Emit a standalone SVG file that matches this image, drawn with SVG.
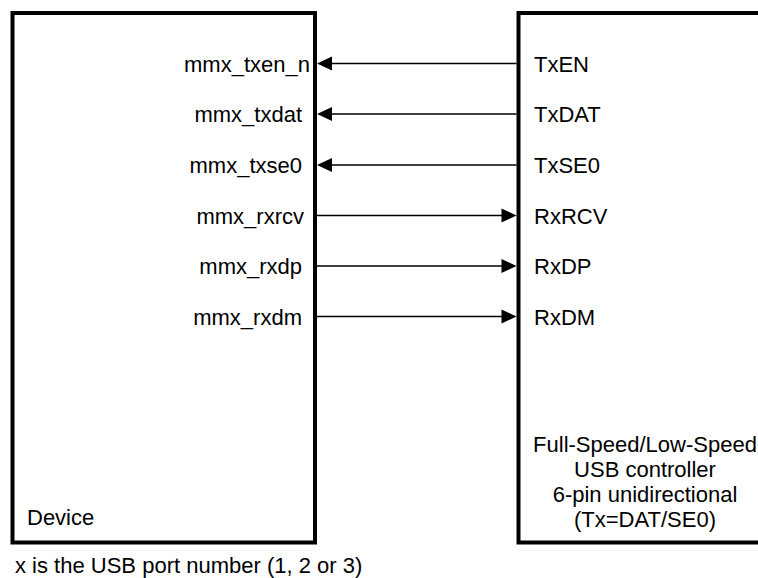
<svg xmlns="http://www.w3.org/2000/svg" width="758" height="578" viewBox="0 0 758 578">
<style>
.box{fill:#fff;stroke:#000;stroke-width:4}
.t{font-family:"Liberation Sans",Arial,sans-serif;font-size:22px;fill:#000}
.e{text-anchor:end}
.m{text-anchor:middle}
.ln{stroke:#000;stroke-width:1.5;fill:none}
.ah{fill:#000}
</style>
<rect width="758" height="578" fill="#fff"/>
<g id="device">
<rect class="box" x="12.5" y="13" width="302.5" height="529.5"/>
<text class="t" x="27" y="525">Device</text>
<text class="t e" x="310" y="71.5">mmx_txen_n</text>
<text class="t e" x="302" y="122">mmx_txdat</text>
<text class="t e" x="302" y="173">mmx_txse0</text>
<text class="t e" x="304" y="223.5">mmx_rxrcv</text>
<text class="t e" x="302" y="274">mmx_rxdp</text>
<text class="t e" x="302" y="324.5">mmx_rxdm</text>
</g>
<g id="usb-controller">
<rect class="box" x="518.5" y="13" width="260" height="529.5"/>
<text class="t" x="534" y="71.5">TxEN</text>
<text class="t" x="534" y="122">TxDAT</text>
<text class="t" x="534" y="173">TxSE0</text>
<text class="t" x="534" y="223.5">RxRCV</text>
<text class="t" x="534" y="274">RxDP</text>
<text class="t" x="534" y="324.5">RxDM</text>
<text class="t m" x="645" y="452">Full-Speed/Low-Speed</text>
<text class="t m" x="645" y="477">USB controller</text>
<text class="t m" x="645" y="502">6-pin unidirectional</text>
<text class="t m" x="645" y="527">(Tx=DAT/SE0)</text>
</g>
<g id="connectors">
<line class="ln" x1="330" y1="63.5" x2="516.5" y2="63.5"/>
<polygon class="ah" points="317,63.5 332,56.5 332,70.5"/>
<line class="ln" x1="330" y1="114" x2="516.5" y2="114"/>
<polygon class="ah" points="317,114 332,107 332,121"/>
<line class="ln" x1="330" y1="165" x2="516.5" y2="165"/>
<polygon class="ah" points="317,165 332,158 332,172"/>
<line class="ln" x1="317" y1="215.5" x2="503" y2="215.5"/>
<polygon class="ah" points="516.5,215.5 501.5,208.5 501.5,222.5"/>
<line class="ln" x1="317" y1="266" x2="503" y2="266"/>
<polygon class="ah" points="516.5,266 501.5,259 501.5,273"/>
<line class="ln" x1="317" y1="316.5" x2="503" y2="316.5"/>
<polygon class="ah" points="516.5,316.5 501.5,309.5 501.5,323.5"/>
</g>
<text class="t" x="15" y="573">x is the USB port number (1, 2 or 3)</text>
</svg>
